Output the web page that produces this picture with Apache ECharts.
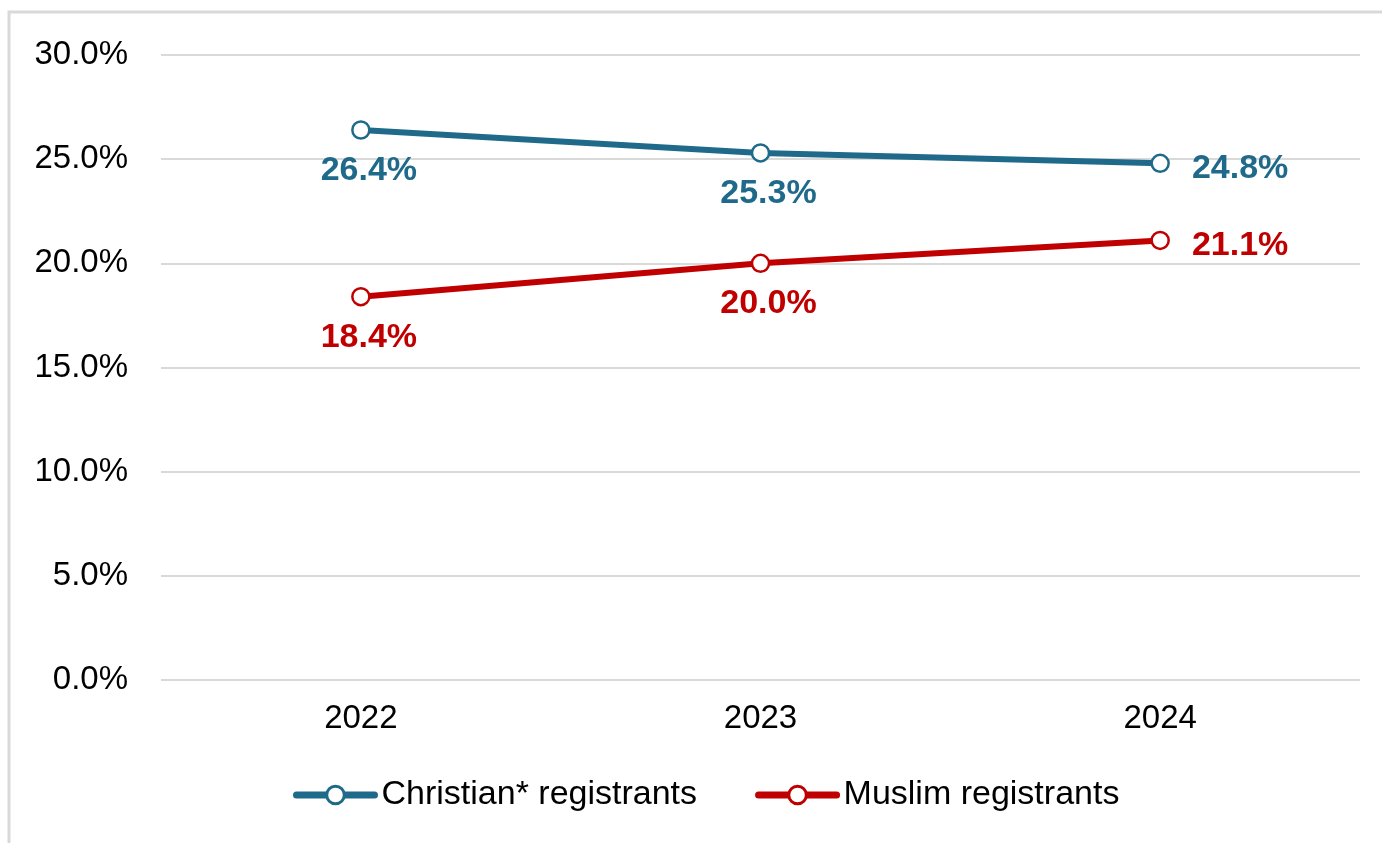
<!DOCTYPE html>
<html>
<head>
<meta charset="utf-8">
<script src="https://cdn.jsdelivr.net/npm/echarts@6/dist/echarts.min.js"></script>
<style>
  html, body { margin: 0; padding: 0; background: #fff; }
  #chart { width: 1382px; height: 843px; }
</style>
</head>
<body>
<div id="chart"></div>
<script>
// data
const years = ['2022', '2023', '2024']
const christianValues = [26.4, 25.3, 24.8]
const muslimValues = [18.4, 20.0, 21.1]
const yTicks = [0, 5, 10, 15, 20, 25, 30]

const BLUE = '#1f6a8a'
const RED = '#c00000'
const FONT = '"Liberation Sans", Arial, sans-serif'

const myChart = echarts.init(document.getElementById('chart'))

// last point label goes on the right, the rest below the point
const buildData = (values, color) => values.map((v, i) => {
  const last = i === values.length - 1
  return {
    value: v,
    label: {
      show: true,
      position: last ? 'right' : 'bottom',
      distance: last ? 22 : 14,
      offset: last ? [0, 5] : [8, 0],
      color: color,
      fontWeight: 'bold',
      fontSize: 34,
      fontFamily: FONT,
      formatter: (p) => p.value.toFixed(1) + '%'
    }
  }
})

const makeSeries = (name, values, color) => ({
  name: name,
  type: 'line',
  data: buildData(values, color),
  symbol: 'circle',
  symbolSize: 17,
  lineStyle: { color: color, width: 6 },
  itemStyle: { color: '#fff', borderColor: color, borderWidth: 2.5 },
  emphasis: { disabled: true },
  animation: false
})

const options = {
  backgroundColor: '#fff',
  graphic: [{
    type: 'rect',
    shape: { x: 9, y: 12, width: 1500, height: 900 },
    style: { fill: 'none', stroke: '#d9d9d9', lineWidth: 3 },
    silent: true
  }],
  grid: { left: 161, right: 22, top: 55, bottom: 163 },
  xAxis: {
    type: 'category',
    data: years,
    boundaryGap: true,
    axisLine: { show: false },
    axisTick: { show: false },
    axisLabel: { color: '#000', fontSize: 33, fontFamily: FONT, margin: 22 }
  },
  yAxis: {
    type: 'value',
    min: yTicks[0],
    max: yTicks[yTicks.length - 1],
    interval: yTicks[1] - yTicks[0],
    axisLine: { show: false },
    axisTick: { show: false },
    splitLine: { lineStyle: { color: '#d9d9d9', width: 2 } },
    axisLabel: {
      color: '#000', fontSize: 33, fontFamily: FONT, margin: 33,
      formatter: (v) => v.toFixed(1) + '%'
    }
  },
  legend: {
    bottom: 26,
    left: 288,
    itemWidth: 78,
    itemHeight: 22,
    itemGap: 58,
    lineStyle: { width: 7, cap: 'round' },
    itemStyle: { color: '#fff', borderWidth: 3 },
    textStyle: { color: '#000', fontSize: 34, fontFamily: FONT, padding: [0, 0, 0, 2] },
    data: ['Christian* registrants', 'Muslim registrants']
  },
  series: [
    makeSeries('Christian* registrants', christianValues, BLUE),
    makeSeries('Muslim registrants', muslimValues, RED)
  ]
}

myChart.setOption(options)
</script>
</body>
</html>
